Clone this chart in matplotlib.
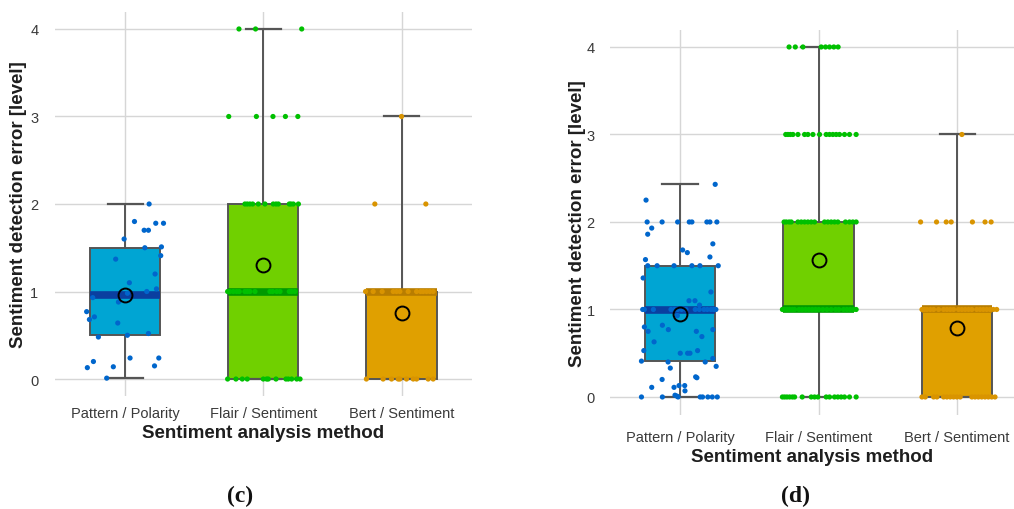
import numpy as np
import matplotlib
matplotlib.use("Agg")
from matplotlib import pyplot as plt

plt.rcParams['font.family'] = ['Liberation Sans', 'DejaVu Sans']

methods = ['Pattern / Polarity', 'Flair / Sentiment', 'Bert / Sentiment']

# box statistics per method (panel c, panel d)
c_q1 = [0.50, 0.0, 0.0]
c_med = [0.965, 1.0, 1.0]
c_q3 = [1.50, 2.0, 1.0]
c_lo = [0.01, 0.0, 0.0]
c_hi = [2.00, 4.0, 3.0]
c_mean = [0.96, 1.30, 0.75]

d_q1 = [0.41, 1.0, 0.0]
d_med = [0.99, 1.0, 1.0]
d_q3 = [1.50, 2.0, 1.0]
d_lo = [0.0, 0.0, 0.0]
d_hi = [2.43, 4.0, 3.0]
d_mean = [0.95, 1.56, 0.79]

# Pattern / Polarity raw points: (x jitter, error)
c_pattern = [(0.174, 2.00), (0.068, 1.80), (0.222, 1.78), (0.278, 1.78), (0.138, 1.70),
             (0.169, 1.70), (-0.007, 1.60), (0.263, 1.51), (0.143, 1.50), (0.258, 1.41),
             (-0.068, 1.37), (0.217, 1.20), (0.031, 1.10), (0.227, 1.03), (0.157, 1.00),
             (0.017, 0.98), (-0.234, 0.93), (-0.048, 0.88), (-0.278, 0.77), (-0.222, 0.71),
             (-0.258, 0.68), (-0.053, 0.64), (0.169, 0.52), (0.017, 0.50), (-0.193, 0.48),
             (0.036, 0.24), (0.244, 0.24), (-0.229, 0.20), (-0.273, 0.13), (-0.085, 0.14),
             (0.213, 0.15), (-0.133, 0.01)]

d_pattern = [(0.254, 2.43), (-0.245, 2.25),
             (-0.237, 2.0), (-0.129, 2.0), (-0.017, 2.0), (0.067, 2.0), (0.086, 2.0),
             (0.194, 2.0), (0.216, 2.0), (0.266, 2.0),
             (-0.204, 1.93), (-0.233, 1.86), (0.237, 1.75), (0.019, 1.68), (0.053, 1.65),
             (0.216, 1.60), (-0.249, 1.57),
             (-0.233, 1.5), (-0.165, 1.5), (-0.043, 1.5), (0.086, 1.5), (0.144, 1.5), (0.276, 1.5),
             (-0.266, 1.36), (0.223, 1.20), (0.065, 1.10), (0.108, 1.10), (0.141, 1.05),
             (-0.269, 1.0), (-0.257, 1.0), (-0.192, 1.0), (-0.065, 1.0), (-0.041, 1.0),
             (-0.017, 1.0), (0.012, 1.0), (0.043, 1.0), (0.110, 1.0), (0.139, 1.0),
             (0.173, 1.0), (0.197, 1.0), (0.223, 1.0), (0.242, 1.0), (0.259, 1.0),
             (-0.019, 0.93), (-0.257, 0.80), (-0.127, 0.82), (-0.230, 0.75), (-0.084, 0.77),
             (0.118, 0.75), (0.237, 0.77), (0.158, 0.69), (-0.187, 0.63), (-0.261, 0.53),
             (0.127, 0.53), (0.002, 0.50), (0.055, 0.50), (0.072, 0.50), (-0.278, 0.41),
             (0.237, 0.44), (-0.086, 0.40), (0.182, 0.40), (0.261, 0.35), (-0.070, 0.33),
             (0.113, 0.23), (0.122, 0.22), (-0.129, 0.20), (-0.204, 0.11), (-0.043, 0.11),
             (0.034, 0.13), (-0.007, 0.13), (0.036, 0.07), (-0.036, 0.02), (-0.022, 0.01),
             (-0.278, 0.0), (-0.127, 0.0), (-0.014, 0.0), (0.146, 0.0), (0.163, 0.0),
             (0.201, 0.0), (0.233, 0.0), (0.269, 0.0)]

# Flair and Bert give whole levels: level -> x jitter of each point
c_flair = {4: [-0.176, -0.056, 0.278],
           3: [-0.25, -0.05, 0.07, 0.16, 0.25],
           2: [-0.133, -0.116, -0.097, -0.077, -0.036, 0.012, 0.072, 0.092, 0.109,
               0.188, 0.200, 0.217, 0.254],
           1: [-0.258, -0.242, -0.217, -0.193, -0.174, -0.133, -0.116, -0.097, -0.060,
               0.048, 0.068, 0.097, 0.121, 0.188, 0.205, 0.229],
           0: [-0.258, -0.198, -0.152, -0.116, 0.0, 0.024, 0.036, 0.092, 0.164, 0.181,
               0.205, 0.242, 0.266]}
c_bert = {3: [0.0],
          2: [-0.193, 0.176],
          1: [-0.26, -0.205, -0.14, -0.06, -0.036, -0.012, 0.048, 0.109, 0.138, 0.157,
              0.181, 0.205, 0.229],
          0: [-0.254, -0.133, -0.072, -0.024, -0.012, 0.036, 0.085, 0.109, 0.193, 0.229]}

d_flair = {4: [-0.213, -0.168, -0.113, 0.019, 0.050, 0.079, 0.110, 0.141],
           3: [-0.237, -0.221, -0.204, -0.185, -0.149, -0.101, -0.077, -0.041, 0.007,
               0.055, 0.079, 0.103, 0.127, 0.151, 0.187, 0.223, 0.271],
           2: [-0.249, -0.233, -0.213, -0.197, -0.149, -0.125, -0.101, -0.077, -0.053,
               -0.029, 0.043, 0.067, 0.091, 0.115, 0.139, 0.194, 0.223, 0.247, 0.271],
           1: [-0.261, -0.245, -0.228, -0.209, -0.189, -0.173, -0.141, -0.118, -0.094,
               -0.070, -0.046, -0.022, 0.002, 0.031, 0.060, 0.091, 0.122, 0.146, 0.180,
               0.204, 0.228, 0.252, 0.271],
           0: [-0.261, -0.245, -0.228, -0.209, -0.189, -0.173, -0.118, -0.053, -0.029,
               -0.005, 0.055, 0.079, 0.115, 0.139, 0.163, 0.187, 0.223, 0.271]}
d_bert = {3: [0.034],
          2: [-0.264, -0.149, -0.079, -0.043, 0.110, 0.201, 0.245],
          1: [-0.254, -0.237, -0.218, -0.194, -0.170, -0.134, -0.098, -0.074, -0.050,
              -0.026, 0.010, 0.034, 0.058, 0.082, 0.106, 0.141, 0.165, 0.189, 0.213,
              0.237, 0.261, 0.285],
          0: [-0.254, -0.230, -0.170, -0.146, -0.098, -0.074, -0.050, -0.026, -0.002,
              0.022, 0.106, 0.129, 0.153, 0.177, 0.201, 0.225, 0.249, 0.273]}

box_colors = ['#00a5d3', '#70d000', '#e0a000']
band_colors = ['#0a3fa0', '#009a00', '#b87d00']
dot_colors = ['#0066cc', '#00c000', '#d99400']

W, H = 1014, 510
fig = plt.figure(figsize=(W / 100, H / 100), dpi=100)


def levels_to_points(d):
    xs, ys = [], []
    for lvl, offs in d.items():
        xs += offs
        ys += [lvl] * len(offs)
    return np.array(xs), np.array(ys, dtype=float)


def draw_panel(rect, q1, med, q3, lo, hi, mean, pattern, flair, bert,
               xlim, ylim, xpad, ypad, ylabpad, tag, tag_xy):
    ax = fig.add_axes(rect)
    stats = []
    for i in range(3):
        stats.append(dict(q1=q1[i], med=med[i], q3=q3[i], whislo=lo[i], whishi=hi[i],
                          mean=mean[i], fliers=[]))
    bp = ax.bxp(stats, positions=[0, 1, 2], widths=0.507, patch_artist=True,
                showfliers=False, showmeans=False, capwidths=0.254,
                boxprops=dict(edgecolor='#555555', linewidth=1.4),
                whiskerprops=dict(color='#555555', linewidth=1.4),
                capprops=dict(color='#555555', linewidth=1.6),
                medianprops=dict(linewidth=5.5, solid_capstyle='butt'))
    for i, patch in enumerate(bp['boxes']):
        patch.set_facecolor(box_colors[i])
        patch.set_zorder(2)
        bp['medians'][i].set_color(band_colors[i])
        bp['medians'][i].set_zorder(3)

    groups = [(np.array([p[0] for p in pattern]), np.array([p[1] for p in pattern])),
              levels_to_points(flair), levels_to_points(bert)]
    for i, (xo, yv) in enumerate(groups):
        ax.scatter(i + xo, yv, s=14, color=dot_colors[i], edgecolors='none', zorder=4)

    ax.plot([0, 1, 2], mean, 'o', ms=10, mfc='none', mec='black', mew=1.4, zorder=5)

    ax.set_xlim(*xlim)
    ax.set_ylim(*ylim)
    ax.set_yticks([0, 1, 2, 3, 4])
    ax.set_xticks([0, 1, 2])
    ax.set_xticklabels(methods)
    ax.grid(True, color='#d6d6d6', linewidth=1.0)
    ax.set_axisbelow(True)
    for s in ax.spines.values():
        s.set_visible(False)
    ax.tick_params(axis='x', length=0, pad=xpad, labelsize=10.5, labelcolor='#3a3a3a')
    ax.tick_params(axis='y', length=0, pad=ypad, labelsize=10.5, labelcolor='#3a3a3a')
    ax.set_xlabel('Sentiment analysis method', fontsize=13.5, fontweight='bold',
                  color='#1e1e1e', labelpad=3)
    ax.set_ylabel('Sentiment detection error [level]', fontsize=13.5, fontweight='bold',
                  color='#1e1e1e', labelpad=ylabpad)
    fig.text(tag_xy[0] / W, 1 - tag_xy[1] / H, tag, family='Liberation Serif',
             fontweight='bold', fontsize=17, ha='center', va='center', color='#111111')
    return ax


ax_c = draw_panel([55 / W, (H - 397) / H, 417 / W, 384 / H],
                  c_q1, c_med, c_q3, c_lo, c_hi, c_mean, c_pattern, c_flair, c_bert,
                  (-0.507, 2.51), (-0.194, 4.194), 7, 12, 2, '(c)', (240, 496))
ax_d = draw_panel([610 / W, (H - 416) / H, 404 / W, 385 / H],
                  d_q1, d_med, d_q3, d_lo, d_hi, d_mean, d_pattern, d_flair, d_bert,
                  (-0.505, 2.41), (-0.206, 4.194), 11, 11, 0, '(d)', (795, 496))

fig.savefig('out.png', dpi=100, facecolor='white')
